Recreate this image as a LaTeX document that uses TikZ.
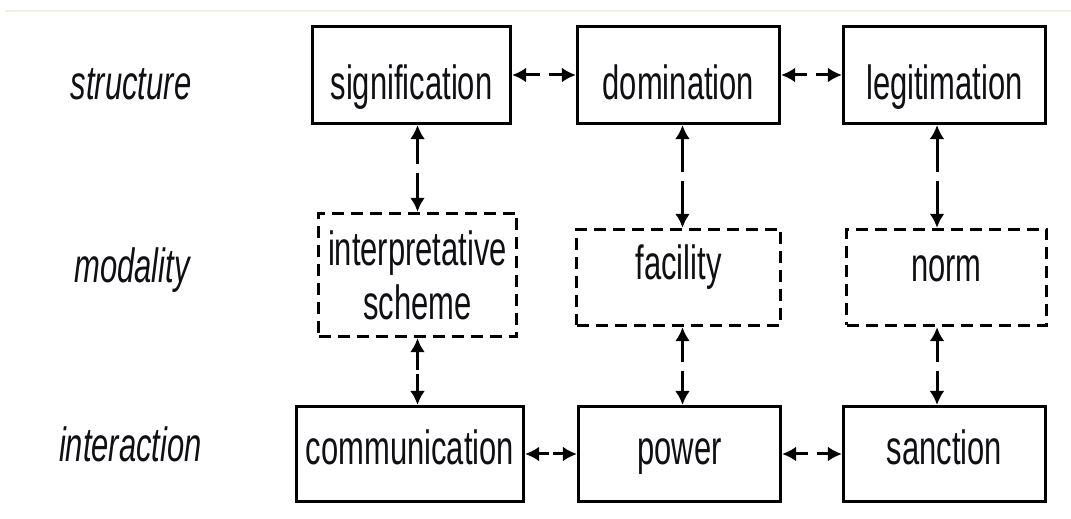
\documentclass[tikz,border=0pt]{standalone}
\usepackage{fontspec}
\usetikzlibrary{arrows.meta}
\newfontfamily\boxfont{Liberation Sans}[FakeStretch=0.645]
\definecolor{inkc}{RGB}{15,15,20}
\definecolor{rulec}{RGB}{234,244,224}
\tikzset{
  every node/.style={font=\boxfont\fontsize{48}{54}\selectfont, text=inkc},
  solidbox/.style={draw=black, line width=3.2pt, inner sep=0pt, minimum height=#1},
  dashbox/.style={draw=black, line width=3.4pt, inner sep=0pt, minimum height=#1,
                  dash pattern=on 12pt off 7pt},
  txth/.style={text height=#1, text depth=0pt},
  rowlabel/.style={anchor=base, font=\boxfont\itshape\fontsize{48}{54}\selectfont},
  % one half of a two-headed link: from the gap in the middle to a box
  halflink/.style={-{Latex[length=14pt,width=15pt]}, line width=3pt, shorten <=4.5pt}
}
\begin{document}
\begin{tikzpicture}[x=1pt,y=1pt]
  \useasboundingbox (0,0) rectangle (1071,519);
  % thin rule along the top
  \draw[rulec, line width=1.8pt] (5,508) -- (1071,508);

  % row labels
  \node[rowlabel] (lstruct) at (131,419) {structure};
  \node[rowlabel] (lmod)    at (132,236) {modality};
  \node[rowlabel] (linter)  at (130.5,57) {interaction};

  % structure row
  \node[solidbox=97pt, minimum width=198pt, txth=50pt] (sig) at (411.5,444) {signification};
  \node[solidbox=97pt, minimum width=202pt, txth=50pt] (dom) at (678.5,444) {domination};
  \node[solidbox=97pt, minimum width=202pt, txth=50pt] (leg) at (944.5,444) {legitimation};

  % modality row
  \node[dashbox=123pt, minimum width=198pt, align=center] (interp) at (417.5,244) {interpretative\\scheme};
  \node[dashbox=96pt, minimum width=204pt, txth=5pt] (fac) at (678.5,241.5) {facility};
  \node[dashbox=96pt, minimum width=200pt, txth=9pt] (norm) at (946.5,241.5) {norm};

  % interaction row
  \node[solidbox=95pt, minimum width=227pt, txth=22pt] (comm) at (410,65) {communication};
  \node[solidbox=95pt, minimum width=202pt, txth=22pt] (pow) at (679.5,65) {power};
  \node[solidbox=95pt, minimum width=202pt, txth=22pt] (sanc) at (944.5,65) {sanction};

  % midpoints of the links, where each one is broken
  \path (sig.east)  -- (dom.west)  coordinate[pos=.5] (mSD);
  \path (dom.east)  -- (leg.west)  coordinate[pos=.5] (mDL);
  \path (comm.east) -- (pow.west)  coordinate[pos=.5] (mCP);
  \path (pow.east)  -- (sanc.west) coordinate[pos=.5] (mPS);
  \path (interp.north |- sig.south) -- (interp.north) coordinate[pos=.5] (mSI);
  \path (interp.south) -- (interp.south |- comm.north) coordinate[pos=.5] (mIC);
  \path ([xshift=4pt]fac.north |- dom.south) -- ([xshift=4pt]fac.north) coordinate[pos=.5] (mDF);
  \path ([xshift=4pt]fac.south) -- ([xshift=4pt]fac.south |- pow.north) coordinate[pos=.5] (mFP);
  \path ([xshift=-9.5pt]norm.north |- leg.south) -- ([xshift=-9.5pt]norm.north) coordinate[pos=.5] (mLN);
  \path ([xshift=-9.5pt]norm.south) -- ([xshift=-9.5pt]norm.south |- sanc.north) coordinate[pos=.5] (mNS);

  % horizontal links
  \draw[halflink] (mSD) -- (sig);   \draw[halflink] (mSD) -- (dom);
  \draw[halflink] (mDL) -- (dom);   \draw[halflink] (mDL) -- (leg);
  \draw[halflink, shorten <=2pt] (mCP) -- (comm);  \draw[halflink, shorten <=2pt] (mCP) -- (pow);
  \draw[halflink] (mPS) -- (pow);   \draw[halflink] (mPS) -- (sanc);

  % vertical links
  \draw[halflink] (mSI) -- (mSI |- sig.south);  \draw[halflink] (mSI) -- (interp);
  \draw[halflink, shorten <=2pt] (mIC) -- (interp);  \draw[halflink, shorten <=2pt] (mIC) -- (mIC |- comm.north);
  \draw[halflink] (mDF) -- (mDF |- dom.south);  \draw[halflink] (mDF) -- (mDF |- fac.north);
  \draw[halflink] (mFP) -- (mFP |- fac.south);  \draw[halflink] (mFP) -- (mFP |- pow.north);
  \draw[halflink] (mLN) -- (mLN |- leg.south);  \draw[halflink] (mLN) -- (mLN |- norm.north);
  \draw[halflink] (mNS) -- (mNS |- norm.south); \draw[halflink] (mNS) -- (mNS |- sanc.north);
\end{tikzpicture}
\end{document}
